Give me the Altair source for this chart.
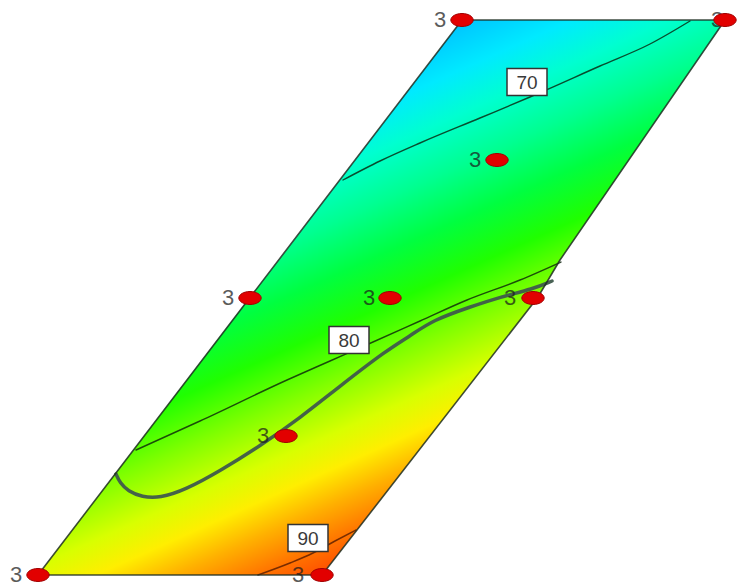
import altair as alt
import pandas as pd

# ---- design region (page-pixel-like units) ----
region_y = [20, 260, 297, 575]
region_x_left = [462, 279, 250, 38]
region_x_right = [725, 560, 538, 322]

outline_x = [462, 725, 560, 538, 322, 38, 462]
outline_y = [20, 20, 260, 297, 575, 575, 20]

# ---- contour lines ----
c70_x = [343, 380, 420, 480, 530, 600, 650, 690]
c70_y = [180, 161, 143, 118, 97, 66, 44, 21]

c80_x = [136, 200, 287, 330, 373, 420, 467, 520, 561]
c80_y = [450, 421, 380, 361, 342, 321, 300, 280, 262]

c90_x = [258, 290, 313, 335, 356]
c90_y = [575, 563, 553, 541, 530]

thick_x = [116, 120, 128, 142, 160, 185, 220, 260, 300, 340, 387, 410, 433, 470, 500, 533, 552]
thick_y = [474, 483, 491, 497, 498, 490, 471, 446, 418, 386, 350, 336, 320, 307, 297, 289, 281]

# contour labels
lab_text = ["70", "80", "90"]
lab_x = [527, 349, 308]
lab_y = [82, 340, 538]

# design points and their replicate counts
pt_x = [462, 725, 497, 250, 390, 533, 286, 38, 322]
pt_y = [20, 20, 160, 298, 298, 298, 436, 575, 575]
pt_n = ["3", "3", "3", "3", "3", "3", "3", "3", "3"]
pt_lab_x = [440, 717, 475, 228, 369, 510, 263, 16, 298]

# ---- colour ramp of the response (value -> colour) ----
ramp_vals = [62, 64, 66.5, 69, 72, 75, 78, 81, 84, 86, 88, 90, 92, 94]
ramp_cols = ["#00a8ff", "#00c8ff", "#00eaff", "#00ffd0", "#00ff90", "#00ff40",
             "#20ff00", "#80ff00", "#d8ff00", "#ffee00", "#ffb000", "#ff7800",
             "#ff4800", "#ff2000"]

vmin, vmax = ramp_vals[0], ramp_vals[-1]
stops = [alt.GradientStop(color=c, offset=(v - vmin) / (vmax - vmin))
         for v, c in zip(ramp_vals, ramp_cols)]
grad = alt.Gradient(gradient="linear", stops=stops,
                    x1=0.1225, y1=0.2210, x2=0.5510, y2=0.9937)

X = lambda f: alt.X(f, type="quantitative", scale=alt.Scale(domain=[8, 742], nice=False, zero=False), axis=None)
Y = lambda f: alt.Y(f, type="quantitative", scale=alt.Scale(domain=[8, 580], nice=False, zero=False, reverse=True), axis=None)

df_region = pd.DataFrame({"y": region_y, "xl": region_x_left, "xr": region_x_right})
df_outline = pd.DataFrame({"x": outline_x, "y": outline_y, "i": range(len(outline_x))})


def line_df(xs, ys):
    return pd.DataFrame({"x": xs, "y": ys, "i": range(len(xs))})


area = alt.Chart(df_region).mark_area(orient="horizontal", color=grad, strokeWidth=0).encode(
    y=Y("y"), x=X("xl"), x2="xr")

def contour(xs, ys, width, color, opacity):
    return alt.Chart(line_df(xs, ys)).mark_line(strokeWidth=width, color=color, opacity=opacity,
                                                 strokeCap="round", strokeJoin="round",
                                                 interpolate="monotone").encode(
        x=X("x"), y=Y("y"), order="i:Q")

l70 = contour(c70_x, c70_y, 1.4, "#0a200a", 0.8)
l80 = contour(c80_x, c80_y, 1.4, "#0a200a", 0.8)
l90 = contour(c90_x, c90_y, 1.5, "#300800", 0.65)
lthick = alt.Chart(line_df(thick_x, thick_y)).mark_line(
    strokeWidth=3.5, color="#3f5a4c", opacity=0.95, strokeCap="round", interpolate="basis").encode(
    x=X("x"), y=Y("y"), order="i:Q")

outline = alt.Chart(df_outline).mark_line(strokeWidth=1.6, color="#1e2e22", opacity=0.85).encode(
    x=X("x"), y=Y("y"), order="i:Q")

df_lab = pd.DataFrame({"x": lab_x, "y": lab_y, "t": lab_text})
box = alt.Chart(df_lab).mark_point(
    shape="M -1 -0.675 L 1 -0.675 L 1 0.675 L -1 0.675 Z", size=1600, filled=True,
    fill="white", stroke="#333333", strokeWidth=1.5, opacity=1).encode(x=X("x"), y=Y("y"))
boxtext = alt.Chart(df_lab).mark_text(font="Liberation Sans", fontSize=19, color="#3a3a3a",
                                      baseline="middle", align="center", dy=1).encode(
    x=X("x"), y=Y("y"), text="t:N")

df_pts = pd.DataFrame({"x": pt_x, "y": pt_y, "n": pt_n, "lx": pt_lab_x})
ptext = alt.Chart(df_pts).mark_text(font="Liberation Sans", fontSize=22, color="#1c1c1c",
                                    opacity=0.72, baseline="middle", align="center").encode(
    x=X("lx"), y=Y("y"), text="n:N")
pts = alt.Chart(df_pts).mark_point(
    shape="M -1 0 A 1 0.58 0 1 0 1 0 A 1 0.58 0 1 0 -1 0 Z", size=500, filled=True,
    fill="#e20000", stroke="#a00000", strokeWidth=1, opacity=1).encode(x=X("x"), y=Y("y"))

chart = alt.layer(area, l70, l80, l90, lthick, outline, box, boxtext, ptext, pts).properties(
    width=734, height=572, autosize=alt.AutoSizeParams(type="none"),
    padding={"left": 0, "top": 0, "right": 0, "bottom": 8}
).configure_view(strokeWidth=0)

chart.save("out.html", embed_options={"renderer": "svg", "actions": False})
